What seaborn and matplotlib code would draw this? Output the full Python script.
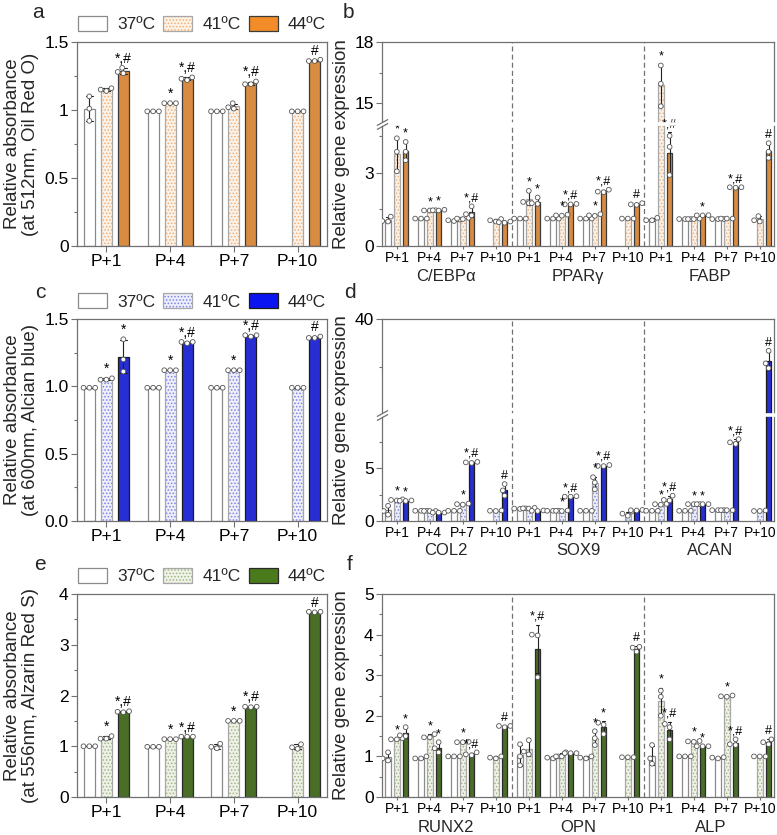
import numpy as np
import pandas as pd
import matplotlib
matplotlib.use("Agg")
import matplotlib.pyplot as plt
import matplotlib.transforms as mtransforms
from matplotlib.colors import to_rgba
from matplotlib.patches import Patch
from matplotlib.ticker import FixedLocator, FixedFormatter, NullFormatter
import seaborn as sns
import warnings
warnings.filterwarnings("ignore")

sns.set_theme(style="ticks")
plt.rcParams["font.family"] = ["Liberation Sans", "DejaVu Sans"]
plt.rcParams["hatch.linewidth"] = 0.7

# ------------------------------------------------------------------ data
PASSAGES = ["P+1", "P+4", "P+7", "P+10"]
TEMPS = ["37ºC", "41ºC", "44ºC"]

# (a) Oil Red O absorbance, replicates per passage
A_37 = [[1.10, 1.01, 0.92], [0.99, 0.99, 0.99], [0.99, 0.99, 0.99], None]
A_41 = [[1.16, 1.15, 1.14], [1.05, 1.05, 1.05], [1.05, 1.02, 1.01], [0.99, 0.99, 0.99]]
A_44 = [[1.31, 1.28, 1.27], [1.24, 1.23, 1.22], [1.21, 1.19, 1.19], [1.37, 1.36, 1.36]]
A_SIG41 = ["", "*", "", ""]
A_SIG44 = ["*,#", "*,#", "*,#", "#"]

# (c) Alcian blue absorbance
C_37 = [[0.99, 0.99, 0.99], [0.99, 0.99, 0.99], [0.99, 0.99, 0.99], None]
C_41 = [[1.06, 1.05, 1.05], [1.12, 1.12, 1.12], [1.12, 1.12, 1.12], [0.99, 0.99, 0.99]]
C_44 = [[1.35, 1.20, 1.11], [1.33, 1.33, 1.32], [1.38, 1.38, 1.37], [1.37, 1.36, 1.36]]
C_SIG41 = ["*", "*", "*", ""]
C_SIG44 = ["*", "*,#", "*,#", "#"]

# (e) Alizarin Red S absorbance
E_37 = [[1.00, 1.00, 1.00], [0.99, 0.99, 0.99], [1.05, 0.99, 0.96], None]
E_41 = [[1.20, 1.15, 1.15], [1.14, 1.14, 1.14], [1.50, 1.50, 1.50], [1.04, 0.98, 0.95]]
E_44 = [[1.69, 1.68, 1.67], [1.19, 1.19, 1.19], [1.78, 1.78, 1.77], [3.65, 3.65, 3.64]]
E_SIG41 = ["*", "*", "*", ""]
E_SIG44 = ["*,#", "*,#", "*,#", "#"]

# (b) adipogenic genes
GENES_B = ["C/EBPα", "PPARγ", "FABP"]
CEBPA_37 = [[1.20, 1.02, 1.00], [1.12, 1.12, 1.12], [1.08, 1.05, 1.02], None]
CEBPA_41 = [[4.40, 3.85, 3.05], [1.46, 1.45, 1.45], [1.15, 1.12, 1.10], [1.10, 1.05, 1.00]]
CEBPA_44 = [[4.25, 3.85, 3.50], [1.48, 1.46, 1.45], [1.62, 1.30, 1.25], [1.00, 0.97, 0.95]]
CEBPA_SIG41 = ["*", "*", "", ""]
CEBPA_SIG44 = ["*", "*", "*,#", ""]
PPARG_37 = [[1.12, 1.12, 1.12], [1.12, 1.12, 1.12], [1.12, 1.12, 1.12], None]
PPARG_41 = [[2.25, 1.80, 1.75], [1.28, 1.25, 1.24], [1.30, 1.25, 1.23], [1.12, 1.12, 1.12]]
PPARG_44 = [[1.98, 1.75, 1.72], [1.72, 1.70, 1.70], [2.30, 2.22, 2.20], [1.75, 1.70, 1.68]]
PPARG_SIG41 = ["*", "*", "*", ""]
PPARG_SIG44 = ["*", "*,#", "*,#", "#"]
FABP_37 = [[1.15, 1.05, 1.05], [1.10, 1.10, 1.10], [1.10, 1.10, 1.10], None]
FABP_41 = [[16.85, 15.95, 14.85], [1.10, 1.10, 1.12], [1.12, 1.12, 1.12], [1.22, 1.05, 1.00]]
FABP_44 = [[4.50, 4.05, 2.90], [1.26, 1.25, 1.25], [2.40, 2.40, 2.38], [4.20, 3.85, 3.60]]
FABP_SIG41 = ["*", "", "", ""]
FABP_SIG44 = ["*,#", "*", "*,#", "#"]

# (d) chondrogenic genes
GENES_D = ["COL2", "SOX9", "ACAN"]
COL2_37 = [[1.45, 0.95, 0.60], [0.97, 0.97, 0.97], [0.97, 0.97, 0.97], None]
COL2_41 = [[2.05, 2.00, 1.95], [0.95, 0.95, 0.95], [1.65, 1.60, 1.55], [1.00, 0.97, 0.95]]
COL2_44 = [[1.95, 1.92, 1.90], [0.80, 0.80, 0.80], [5.60, 5.55, 5.50], [3.50, 2.90, 2.40]]
COL2_SIG41 = ["*", "", "*", ""]
COL2_SIG44 = ["*", "", "*,#", "#"]
SOX9_37 = [[1.20, 1.18, 1.15], [0.97, 0.97, 0.97], [0.97, 0.97, 0.97], None]
SOX9_41 = [[1.25, 1.20, 1.18], [1.00, 0.97, 0.95], [4.15, 3.65, 3.00], [0.90, 0.70, 0.50]]
SOX9_44 = [[1.00, 0.97, 0.95], [2.35, 2.30, 2.30], [5.30, 5.22, 5.20], [1.05, 1.02, 1.00]]
SOX9_SIG41 = ["", "*", "*", ""]
SOX9_SIG44 = ["", "*,#", "*,#", ""]
ACAN_37 = [[0.97, 0.97, 0.97], [0.97, 0.97, 0.97], [1.03, 1.03, 1.03], None]
ACAN_41 = [[1.62, 1.60, 1.55], [1.60, 1.60, 1.60], [1.03, 1.03, 1.03], [1.00, 0.95, 0.95]]
ACAN_44 = [[2.40, 2.00, 1.95], [1.60, 1.60, 1.60], [7.75, 7.45, 7.30], [36.7, 35.4, 34.9]]
ACAN_SIG41 = ["*", "*", "", ""]
ACAN_SIG44 = ["*,#", "*", "*,#", "#"]

# (f) osteogenic genes
GENES_F = ["RUNX2", "OPN", "ALP"]
RUNX2_37 = [[1.10, 0.95, 0.90], [1.00, 0.95, 0.95], [1.00, 1.00, 1.00], None]
RUNX2_41 = [[1.45, 1.42, 1.42], [1.55, 1.47, 1.47], [1.36, 1.35, 1.35], [1.00, 0.97, 0.95]]
RUNX2_44 = [[1.72, 1.52, 1.50], [1.35, 1.20, 1.10], [1.10, 1.05, 1.03], [1.75, 1.75, 1.72]]
RUNX2_SIG41 = ["*", "*", "*", ""]
RUNX2_SIG44 = ["*", "*", "*,#", "#"]
OPN_37 = [[1.30, 1.00, 0.78], [1.00, 0.97, 0.95], [1.00, 0.97, 0.95], None]
OPN_41 = [[1.40, 1.12, 1.05], [1.10, 1.00, 1.00], [1.62, 1.45, 1.28], [0.98, 0.98, 0.98]]
OPN_44 = [[4.00, 3.98, 2.95], [1.08, 1.08, 1.08], [1.83, 1.78, 1.55], [3.70, 3.68, 3.58]]
OPN_SIG41 = ["", "", "*", ""]
OPN_SIG44 = ["*,#", "", "*", "#"]
ALP_37 = [[1.28, 0.95, 0.82], [1.00, 1.00, 1.00], [0.98, 0.97, 0.95], None]
ALP_41 = [[2.62, 2.47, 2.00], [1.38, 1.37, 1.36], [2.50, 2.48, 2.47], [1.00, 1.00, 1.00]]
ALP_44 = [[1.80, 1.72, 1.42], [1.25, 1.25, 1.25], [1.42, 1.30, 1.28], [1.42, 1.35, 1.30]]
ALP_SIG41 = ["*", "*", "*", ""]
ALP_SIG44 = ["*,#", "*", "*,#", "#"]

# ------------------------------------------------------------------ styles
THEMES = {
    "orange": dict(face=["white", "#FDF2E6", "#F28C28"], hatch="#F5B072",
                   edge=["#8A8A8A", "#A8A8A8", "#3A3A3A"]),
    "blue": dict(face=["white", "#ECEEFA", "#0A14F0"], hatch="#7C84EA",
                 edge=["#8A8A8A", "#A8A8A8", "#1A1A1A"]),
    "green": dict(face=["white", "#F0F2E8", "#4A7A1C"], hatch="#9DB880",
                  edge=["#8A8A8A", "#A8A8A8", "#2A2A2A"]),
}
SPINE = "#707070"


def long_df(cats, s37, s41, s44):
    rows = []
    for c, r37, r41, r44 in zip(cats, s37, s41, s44):
        for t, reps in zip(TEMPS, (r37, r41, r44)):
            if reps is None:
                continue
            for v in reps:
                rows.append((c, t, v))
    return pd.DataFrame(rows, columns=["cat", "temp", "val"])


def set_hatch(p, color):
    if hasattr(p, "set_hatchcolor"):
        p.set_hatchcolor(color)
    else:
        p._hatch_color = to_rgba(color)
        p.stale = True


def make_break(lo, hi, top, frac):
    eps = 1e-4

    def fwd(y):
        y = np.asarray(y, float)
        return np.where(y <= lo, y / lo * frac,
                        np.where(y >= hi, frac + eps + (y - hi) / (top - hi) * (1 - frac - eps),
                                 frac + (y - lo) / (hi - lo) * eps))

    def inv(u):
        u = np.asarray(u, float)
        return np.where(u <= frac, u * lo / frac,
                        np.where(u >= frac + eps, hi + (u - frac - eps) * (top - hi) / (1 - frac - eps),
                                 lo + (u - frac) / eps * (hi - lo)))
    return fwd, inv


def draw_panel(ax, cats, s37, s41, s44, sig41, sig44, theme, capsize, ann_fs):
    th = THEMES[theme]
    df = long_df(cats, s37, s41, s44)
    sns.barplot(data=df, x="cat", y="val", hue="temp", order=cats, hue_order=TEMPS,
                palette=th["face"], width=0.8, gap=0.36, errorbar="sd",
                capsize=capsize, err_kws={"color": "#222222", "linewidth": 0.8},
                legend=False, ax=ax)
    for j, cont in enumerate(ax.containers):
        for b in cont:
            b.set_edgecolor(th["edge"][j])
            b.set_linewidth(0.9)
            if j == 1:
                b.set_hatch(".....")
                set_hatch(b, th["hatch"])
    sns.swarmplot(data=df, x="cat", y="val", hue="temp", order=cats, hue_order=TEMPS,
                  dodge=True, palette=["white"] * 3, edgecolor="#555555", linewidth=0.6,
                  size=3.4, legend=False, ax=ax, warn_thresh=1.0)
    for coll in ax.collections:
        coll.set_zorder(3)
    for i in range(len(cats)):
        for j, sig, reps in ((1, sig41[i], s41[i]), (2, sig44[i], s44[i])):
            if not sig or reps is None:
                continue
            top = max(np.mean(reps) + np.std(reps, ddof=1), max(reps))
            ax.annotate(sig, xy=(i + (j - 1) * 0.8 / 3, top), xytext=(0, 1.5),
                        textcoords="offset points", ha="center", va="bottom",
                        fontsize=ann_fs, color="black", zorder=5)


def style_axes(ax, ymaj, ylab, ymin, xfs, xlen, xpad):
    for s in ax.spines.values():
        s.set_visible(True)
        s.set_color(SPINE)
        s.set_linewidth(0.9)
    ax.tick_params(axis="both", which="both", direction="out", color=SPINE, width=0.8,
                   labelcolor="black")
    ax.tick_params(axis="y", which="major", length=4, pad=2, labelsize=12.5)
    ax.tick_params(axis="y", which="minor", length=2.5)
    ax.tick_params(axis="x", which="major", length=xlen, pad=xpad, labelsize=xfs)
    ax.yaxis.set_major_locator(FixedLocator(ymaj))
    ax.yaxis.set_major_formatter(FixedFormatter(ylab))
    ax.yaxis.set_minor_locator(FixedLocator(ymin))
    ax.yaxis.set_minor_formatter(NullFormatter())
    ax.set_xlabel("")


def break_marks(ax, frac):
    fig = ax.figure
    ax.plot([-0.006, 1.006], [frac, frac], transform=ax.transAxes, color="white", lw=2.6,
            clip_on=False, zorder=20, solid_capstyle="butt")
    for dy in (-2.0, 2.0):
        tr = mtransforms.offset_copy(ax.transAxes, fig=fig, x=0, y=dy, units="dots")
        ax.plot([0], [frac], transform=tr, marker=[(-1, -0.55), (1, 0.55)], markersize=8,
                mew=0.9, color=SPINE, clip_on=False, zorder=21, ls="none")


def legend_top(ax, theme):
    th = THEMES[theme]
    handles = []
    for j in range(3):
        p = Patch(facecolor=th["face"][j], edgecolor=th["edge"][j], linewidth=0.9,
                  hatch="....." if j == 1 else None)
        if j == 1:
            set_hatch(p, th["hatch"])
        handles.append(p)
    leg = ax.legend(handles, TEMPS, ncol=3, loc="center", bbox_to_anchor=(0.5, 1.088),
                    frameon=False, fontsize=12.5, handlelength=1.67, handleheight=0.98,
                    handletextpad=0.57, columnspacing=0.46, borderpad=0, borderaxespad=0)
    for p in leg.get_patches():
        if p.get_hatch():
            set_hatch(p, th["hatch"])


# ------------------------------------------------------------------ figure
fig = plt.figure(figsize=(7.77, 8.35), dpi=100)
LX, LW = 77 / 777, 250 / 777
RX, RW = 382 / 777, 392 / 777
rows = [(0.7054, 0.2443), (0.3760, 0.2419), (0.0455, 0.2431)]

ax_a = fig.add_axes([LX, rows[0][0], LW, rows[0][1]])
ax_b = fig.add_axes([RX, rows[0][0], RW, rows[0][1]])
ax_c = fig.add_axes([LX, rows[1][0], LW, rows[1][1]])
ax_d = fig.add_axes([RX, rows[1][0], RW, rows[1][1]])
ax_e = fig.add_axes([LX, rows[2][0], LW, rows[2][1]])
ax_f = fig.add_axes([RX, rows[2][0], RW, rows[2][1]])

# left column: absorbance
left_specs = [
    (ax_a, A_37, A_41, A_44, A_SIG41, A_SIG44, "orange", 1.5,
     [0, 0.5, 1, 1.5], ["0", "0.5", "1", "1.5"], [0.25, 0.75, 1.25],
     "Relative absorbance\n(at 512nm, Oil Red O)"),
    (ax_c, C_37, C_41, C_44, C_SIG41, C_SIG44, "blue", 1.5,
     [0, 0.5, 1, 1.5], ["0.0", "0.5", "1.0", "1.5"], [0.25, 0.75, 1.25],
     "Relative absorbance\n(at 600nm, Alcian blue)"),
    (ax_e, E_37, E_41, E_44, E_SIG41, E_SIG44, "green", 4,
     [0, 1, 2, 3, 4], ["0", "1", "2", "3", "4"], [0.5, 1.5, 2.5, 3.5],
     "Relative absorbance\n(at 556nm, Alzarin Red S)"),
]
for ax, s37, s41, s44, g41, g44, theme, ytop, ymaj, ylab, ymin, ylabel in left_specs:
    ax.set_ylim(0, ytop)
    draw_panel(ax, PASSAGES, s37, s41, s44, g41, g44, theme, capsize=0.3, ann_fs=10)
    ax.set_ylim(0, ytop)
    ax.set_xlim(-0.46, 3.46)
    style_axes(ax, ymaj, ylab, ymin, xfs=12.5, xlen=4, xpad=2)
    ax.set_ylabel(ylabel, fontsize=13.5, linespacing=1.15)
    ax.yaxis.set_label_coords(-0.15, 0.5)
    legend_top(ax, theme)

# right column: gene expression
right_specs = [
    (ax_b, GENES_B, [CEBPA_37, PPARG_37, FABP_37], [CEBPA_41, PPARG_41, FABP_41],
     [CEBPA_44, PPARG_44, FABP_44], [CEBPA_SIG41, PPARG_SIG41, FABP_SIG41],
     [CEBPA_SIG44, PPARG_SIG44, FABP_SIG44], "orange", (5, 14, 18, 0.600),
     [0, 3, 15, 18], ["0", "3", "15", "18"], [1.5, 4.5, 16.5]),
    (ax_d, GENES_D, [COL2_37, SOX9_37, ACAN_37], [COL2_41, SOX9_41, ACAN_41],
     [COL2_44, SOX9_44, ACAN_44], [COL2_SIG41, SOX9_SIG41, ACAN_SIG41],
     [COL2_SIG44, SOX9_SIG44, ACAN_SIG44], "blue", (10, 30, 40, 0.523),
     [0, 5, 40], ["0", "5", "40"], [2.5, 7.5, 35]),
    (ax_f, GENES_F, [RUNX2_37, OPN_37, ALP_37], [RUNX2_41, OPN_41, ALP_41],
     [RUNX2_44, OPN_44, ALP_44], [RUNX2_SIG41, OPN_SIG41, ALP_SIG41],
     [RUNX2_SIG44, OPN_SIG44, ALP_SIG44], "green", None,
     [0, 1, 2, 3, 4, 5], ["0", "1", "2", "3", "4", "5"], [0.5, 1.5, 2.5, 3.5, 4.5]),
]
for ax, genes, l37, l41, l44, g41, g44, theme, brk, ymaj, ylab, ymin in right_specs:
    cats = [f"{g} {p}" for g in genes for p in PASSAGES]
    s37 = sum(l37, [])
    s41 = sum(l41, [])
    s44 = sum(l44, [])
    sig41 = sum(g41, [])
    sig44 = sum(g44, [])
    if brk is not None:
        lo, hi, top, frac = brk
        fwd, inv = make_break(lo, hi, top, frac)
        ax.set_yscale("function", functions=(fwd, inv))
        ytop = top
    else:
        ytop = 5
    ax.set_ylim(0, ytop)
    draw_panel(ax, cats, s37, s41, s44, sig41, sig44, theme, capsize=0.3, ann_fs=9)
    ax.set_ylim(0, ytop)
    ax.set_xlim(-0.45, 11.43)
    for xv in (3.5, 7.5):
        ax.axvline(xv, color=SPINE, ls=(0, (4, 2.5)), lw=0.9, zorder=0.5)
    style_axes(ax, ymaj, ylab, ymin, xfs=10, xlen=2.5, xpad=1)
    ax.set_xticks(range(12))
    ax.set_xticklabels(PASSAGES * 3)
    trans = ax.get_xaxis_transform()
    for k, g in enumerate(genes):
        ax.text(1.5 + 4 * k, -0.148, g, transform=trans, ha="center", va="center",
                fontsize=12)
    ax.set_ylabel("Relative gene expression", fontsize=13.5)
    ax.yaxis.set_label_coords(-0.082, 0.5)
    if brk is not None:
        break_marks(ax, brk[3])

# panel letters
for letter, (px, py) in zip("abcdef", [(38, 12), (348, 12), (40, 292), (350, 292),
                                        (40, 565), (350, 565)]):
    fig.text(px / 777, 1 - py / 835, letter, fontsize=15, ha="center", va="center")

fig.savefig("out.png", dpi=100, facecolor="white")
